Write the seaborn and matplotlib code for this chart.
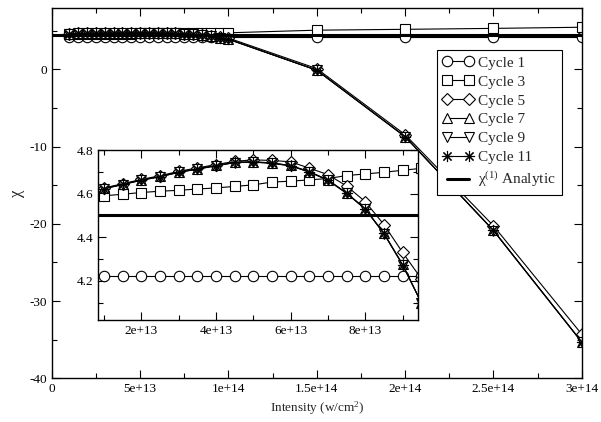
import matplotlib
matplotlib.use("Agg")
import matplotlib.pyplot as plt
from matplotlib.ticker import FixedLocator, MultipleLocator
import seaborn as sns

# intensities (w/cm^2) of the computed points
intensity = [1.0e13, 1.5e13, 2.0e13, 2.5e13, 3.0e13, 3.5e13, 4.0e13, 4.5e13,
             5.0e13, 5.5e13, 6.0e13, 6.5e13, 7.0e13, 7.5e13, 8.0e13, 8.5e13,
             9.0e13, 9.5e13, 1.0e14, 1.5e14, 2.0e14, 2.5e14, 3.0e14]

cycle1 = [4.22, 4.22, 4.22, 4.22, 4.22, 4.22, 4.22, 4.22, 4.22, 4.22, 4.22, 4.22,
          4.22, 4.22, 4.22, 4.22, 4.22, 4.22, 4.22, 4.22, 4.22, 4.22, 4.22]
cycle3 = [4.590, 4.597, 4.605, 4.611, 4.615, 4.621, 4.626, 4.633, 4.640, 4.653,
          4.657, 4.663, 4.669, 4.683, 4.690, 4.698, 4.707, 4.716, 4.73,
          5.07, 5.18, 5.30, 5.45]
cycle5 = [4.626, 4.645, 4.665, 4.682, 4.702, 4.718, 4.733, 4.748, 4.755, 4.752,
          4.746, 4.717, 4.687, 4.635, 4.563, 4.458, 4.330, 4.21, 4.05,
          0.1, -8.45, -20.25, -34.3]
cycle7 = [4.624, 4.643, 4.663, 4.679, 4.699, 4.714, 4.729, 4.744, 4.746, 4.741,
          4.729, 4.701, 4.663, 4.603, 4.531, 4.418, 4.275, 4.10, 3.90,
          -0.1, -8.7, -20.85, -35.3]
cycle9 = [4.622, 4.641, 4.661, 4.677, 4.697, 4.712, 4.727, 4.742, 4.744, 4.739,
          4.727, 4.699, 4.661, 4.601, 4.529, 4.416, 4.273, 4.10, 3.90,
          -0.12, -8.72, -20.87, -35.32]
cycle11 = [4.623, 4.642, 4.662, 4.678, 4.698, 4.713, 4.728, 4.743, 4.745, 4.740,
           4.728, 4.700, 4.662, 4.602, 4.530, 4.417, 4.274, 4.10, 3.90,
           -0.11, -8.71, -20.86, -35.31]

analytic_x = [0.0, 3.0e14]
analytic_chi = [4.5, 4.5]

series_names = ["Cycle 1", "Cycle 3", "Cycle 5", "Cycle 7", "Cycle 9", "Cycle 11"]
series_values = [cycle1, cycle3, cycle5, cycle7, cycle9, cycle11]
series_markers = ["o", "s", "D", "^", "v", (8, 2, 0)]
series_msize = [7.5, 7, 6, 7.5, 7.5, 8]

main_xticks = [0, 5e13, 1e14, 1.5e14, 2e14, 2.5e14, 3e14]
main_xlabels = ["0", "5e+13", "1e+14", "1.5e+14", "2e+14", "2.5e+14", "3e+14"]
inset_xticks = [2e13, 4e13, 6e13, 8e13]
inset_xlabels = ["2e+13", "4e+13", "6e+13", "8e+13"]

sns.set_style("ticks")
plt.rcParams["font.family"] = ["Liberation Serif", "DejaVu Serif"]
plt.rcParams["mathtext.fontset"] = "custom"
plt.rcParams["mathtext.rm"] = "Liberation Serif"
plt.rcParams["mathtext.it"] = "Liberation Serif:italic"
plt.rcParams["axes.unicode_minus"] = False

fig = plt.figure(figsize=(6.01, 4.22), dpi=100)
ax = fig.add_axes([0.086, 0.1036, 0.882, 0.8767])
axin = fig.add_axes([0.1636, 0.2417, 0.5311, 0.4028])


def draw(a):
    for name, vals, mk, ms in zip(series_names, series_values, series_markers, series_msize):
        sns.lineplot(x=intensity, y=vals, ax=a, color="black", linewidth=0.8,
                     marker=mk, markersize=ms, markerfacecolor="white",
                     markeredgecolor="black", markeredgewidth=0.8, label=name,
                     legend=False)
    sns.lineplot(x=analytic_x, y=analytic_chi, ax=a, color="black", linewidth=2.2,
                 label=r"χ$^{(1)}$ Analytic", legend=False)


def style(a, size):
    for s in a.spines.values():
        s.set_linewidth(1.0)
        s.set_color("black")
    a.tick_params(which="both", direction="in", top=True, right=True,
                  colors="black", labelsize=size, width=0.8)
    a.tick_params(which="major", length=6)
    a.tick_params(which="minor", length=3.5)


draw(ax)
ax.set_xlim(0, 3e14)
ax.set_ylim(-40, 7.9)
ax.xaxis.set_major_locator(FixedLocator(main_xticks))
ax.set_xticklabels(main_xlabels)
ax.xaxis.set_minor_locator(MultipleLocator(2.5e13))
ax.yaxis.set_major_locator(MultipleLocator(10))
ax.yaxis.set_minor_locator(MultipleLocator(5))
style(ax, 9.5)
ax.set_xlabel("Intensity (w/cm$^2$)", fontsize=9.5, labelpad=3)
ax.set_ylabel("χ", fontsize=12, labelpad=3)

leg = ax.legend(loc="upper right", bbox_to_anchor=(561.7 / 601, 1 - 50 / 422),
                bbox_transform=fig.transFigure, borderaxespad=0, numpoints=2,
                fontsize=11, handlelength=2.0, handletextpad=0.3,
                labelspacing=0.34, borderpad=0.4, fancybox=False, framealpha=1)
leg.get_frame().set_edgecolor("black")
leg.get_frame().set_linewidth(0.8)

draw(axin)
axin.set_xlim(0.85e13, 9.4e13)
axin.set_ylim(4.02, 4.8)
axin.xaxis.set_major_locator(FixedLocator(inset_xticks))
axin.set_xticklabels(inset_xlabels)
axin.xaxis.set_minor_locator(MultipleLocator(1e13))
axin.yaxis.set_major_locator(MultipleLocator(0.2))
axin.yaxis.set_minor_locator(MultipleLocator(0.1))
style(axin, 9.5)
axin.set_facecolor("white")

fig.savefig("out.png", dpi=100)
